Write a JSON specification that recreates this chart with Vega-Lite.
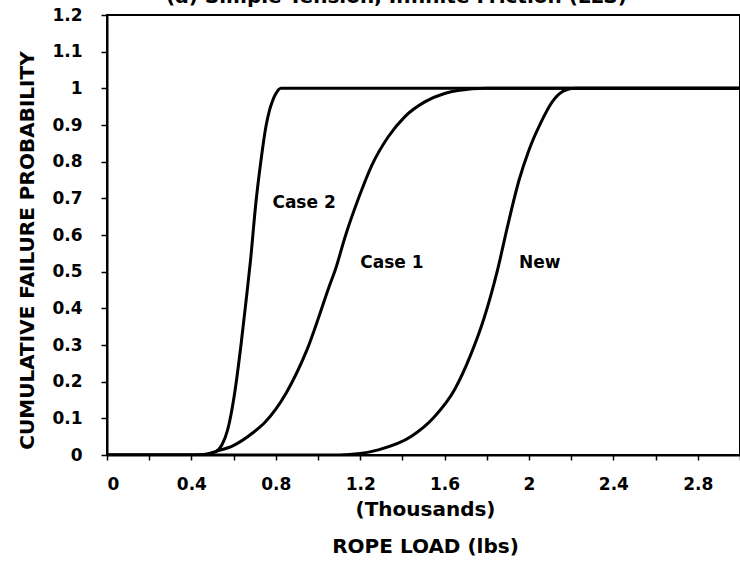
{
  "$schema": "https://vega.github.io/schema/vega-lite/v6.json",
  "width": 633,
  "height": 440,
  "autosize": {"type": "none"},
  "padding": {"left": 107, "top": 15, "right": 0, "bottom": 106},
  "background": "white",
  "title": {
    "text": "(a) Simple Tension, Infinite Friction (LLS)",
    "anchor": "middle",
    "frame": "group",
    "dx": -27,
    "dy": 17,
    "baseline": "alphabetic",
    "offset": 0,
    "font": "DejaVu Sans",
    "fontWeight": "bold",
    "fontSize": 20,
    "color": "black"
  },
  "config": {
    "view": {"stroke": "black", "strokeWidth": 2},
    "axis": {
      "grid": false,
      "domainColor": "black",
      "domainWidth": 2,
      "tickColor": "black",
      "tickWidth": 1.5,
      "labelColor": "black",
      "titleColor": "black",
      "labelFont": "DejaVu Sans",
      "labelFontWeight": "bold",
      "labelFontSize": 17,
      "labelOverlap": false,
      "labelBound": false,
      "titleFont": "DejaVu Sans",
      "titleFontWeight": "bold"
    }
  },
  "datasets": {
    "curves": [
      {"series": "Case 2", "load": 0, "p": 0},
      {"series": "Case 2", "load": 0.42, "p": 0},
      {"series": "Case 2", "load": 0.48, "p": 0.003},
      {"series": "Case 2", "load": 0.518, "p": 0.01},
      {"series": "Case 2", "load": 0.545, "p": 0.028},
      {"series": "Case 2", "load": 0.572, "p": 0.069},
      {"series": "Case 2", "load": 0.604, "p": 0.165},
      {"series": "Case 2", "load": 0.635, "p": 0.3},
      {"series": "Case 2", "load": 0.659, "p": 0.42},
      {"series": "Case 2", "load": 0.68, "p": 0.53},
      {"series": "Case 2", "load": 0.706, "p": 0.69},
      {"series": "Case 2", "load": 0.729, "p": 0.8},
      {"series": "Case 2", "load": 0.753, "p": 0.895},
      {"series": "Case 2", "load": 0.77, "p": 0.94},
      {"series": "Case 2", "load": 0.784, "p": 0.965},
      {"series": "Case 2", "load": 0.8, "p": 0.985},
      {"series": "Case 2", "load": 0.824, "p": 1.0},
      {"series": "Case 2", "load": 3.0, "p": 1.0},
      {"series": "Case 1", "load": 0, "p": 0},
      {"series": "Case 1", "load": 0.42, "p": 0},
      {"series": "Case 1", "load": 0.48, "p": 0.003},
      {"series": "Case 1", "load": 0.518, "p": 0.01},
      {"series": "Case 1", "load": 0.596, "p": 0.025},
      {"series": "Case 1", "load": 0.69, "p": 0.06},
      {"series": "Case 1", "load": 0.75, "p": 0.09},
      {"series": "Case 1", "load": 0.8, "p": 0.125},
      {"series": "Case 1", "load": 0.85, "p": 0.17},
      {"series": "Case 1", "load": 0.9, "p": 0.225},
      {"series": "Case 1", "load": 0.95, "p": 0.29},
      {"series": "Case 1", "load": 1.0, "p": 0.37},
      {"series": "Case 1", "load": 1.05, "p": 0.455},
      {"series": "Case 1", "load": 1.082, "p": 0.505},
      {"series": "Case 1", "load": 1.129, "p": 0.596},
      {"series": "Case 1", "load": 1.192, "p": 0.7},
      {"series": "Case 1", "load": 1.255, "p": 0.79},
      {"series": "Case 1", "load": 1.333, "p": 0.868},
      {"series": "Case 1", "load": 1.412, "p": 0.923},
      {"series": "Case 1", "load": 1.506, "p": 0.963},
      {"series": "Case 1", "load": 1.6, "p": 0.986},
      {"series": "Case 1", "load": 1.663, "p": 0.994},
      {"series": "Case 1", "load": 1.8, "p": 1.0},
      {"series": "Case 1", "load": 3.0, "p": 1.0},
      {"series": "New", "load": 0, "p": 0},
      {"series": "New", "load": 1.1, "p": 0},
      {"series": "New", "load": 1.2, "p": 0.004},
      {"series": "New", "load": 1.286, "p": 0.014},
      {"series": "New", "load": 1.443, "p": 0.051},
      {"series": "New", "load": 1.553, "p": 0.105},
      {"series": "New", "load": 1.647, "p": 0.178},
      {"series": "New", "load": 1.725, "p": 0.275},
      {"series": "New", "load": 1.788, "p": 0.375},
      {"series": "New", "load": 1.851, "p": 0.505},
      {"series": "New", "load": 1.898, "p": 0.623},
      {"series": "New", "load": 1.953, "p": 0.75},
      {"series": "New", "load": 2.0, "p": 0.832},
      {"series": "New", "load": 2.055, "p": 0.905},
      {"series": "New", "load": 2.11, "p": 0.963},
      {"series": "New", "load": 2.165, "p": 0.993},
      {"series": "New", "load": 2.22, "p": 1.0},
      {"series": "New", "load": 3.0, "p": 1.0}
    ],
    "labels": [
      {"text": "Case 2", "load": 0.934, "p": 0.686},
      {"text": "Case 1", "load": 1.35, "p": 0.523},
      {"text": "New", "load": 2.051, "p": 0.524}
    ]
  },
  "encoding": {
    "x": {
      "field": "load",
      "type": "quantitative",
      "scale": {"domain": [0, 3], "nice": false},
      "axis": {
        "values": [0, 0.2, 0.4, 0.6, 0.8, 1.0, 1.2, 1.4, 1.6, 1.8, 2.0, 2.2, 2.4, 2.6, 2.8, 3.0],
        "labelExpr": "(round(datum.value*10) % 4 == 0 && datum.value < 2.9) ? format(datum.value, '~g') : ''",
        "tickSize": 5,
        "labelPadding": 16,
        "labelFontSize": 17,
        "labelOverlap": false,
        "title": ["(Thousands)", "ROPE LOAD (lbs)"],
        "titleFontSize": 20,
        "titleLineHeight": 37,
        "titleBaseline": "top",
        "titleY": 44,
        "titleX": 318,
        "titleAlign": "center"
      }
    },
    "y": {
      "field": "p",
      "type": "quantitative",
      "scale": {"domain": [0, 1.2], "nice": false},
      "axis": {
        "values": [0, 0.1, 0.2, 0.3, 0.4, 0.5, 0.6, 0.7, 0.8, 0.9, 1.0, 1.1, 1.2],
        "labelExpr": "format(datum.value, '.1~f')",
        "labelOverlap": false,
        "tickSize": 6,
        "labelPadding": 19,
        "title": "CUMULATIVE FAILURE PROBABILITY",
        "titleFontSize": 20,
        "titleX": -80,
        "titleY": 235,
        "titleBaseline": "middle",
        "titleAlign": "center"
      }
    }
  },
  "layer": [
    {
      "data": {"name": "curves"},
      "mark": {"type": "line", "color": "black", "strokeWidth": 3, "interpolate": "monotone", "clip": true},
      "encoding": {
        "detail": {"field": "series", "type": "nominal"}
      }
    },
    {
      "data": {"name": "labels"},
      "mark": {"type": "text", "font": "DejaVu Sans", "fontWeight": "bold", "fontSize": 17, "color": "black", "align": "center", "baseline": "middle"},
      "encoding": {
        "text": {"field": "text", "type": "nominal"}
      }
    }
  ]
}
